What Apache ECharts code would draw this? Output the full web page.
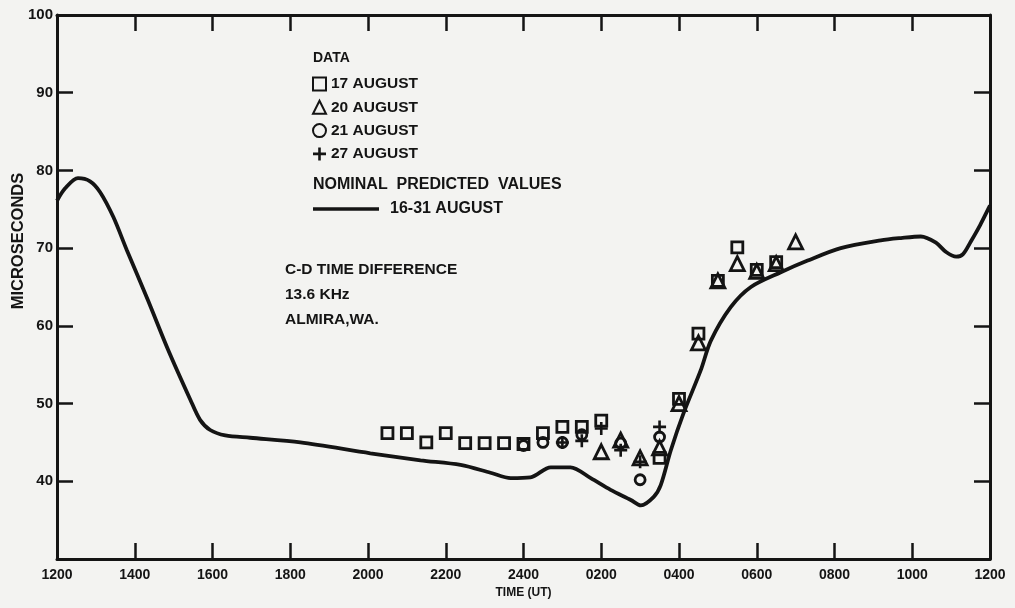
<!DOCTYPE html>
<html><head><meta charset="utf-8">
<script src="https://cdn.jsdelivr.net/npm/echarts@6/dist/echarts.min.js"></script>
<style>html,body{margin:0;padding:0;background:#f3f3f1}#c{width:1015px;height:608px}</style>
</head><body><div id="c"></div>
<script>
// x = hours counted from 1200 UT on the first day (12 .. 36)
const xTickLabels = ['1200','1400','1600','1800','2000','2200','2400','0200','0400','0600','0800','1000','1200'];
const yTickLabels = ['', '40','50','60','70','80','90','100'];

const predHours  = [12.0,12.21,12.54,12.85,13.11,13.45,13.80,14.34,14.86,15.43,15.68,15.94,16.33,16.97,18.26,20.06,21.35,22.38,23.15,23.67,24.18,24.70,25.21,25.73,26.24,26.76,27.02,27.35,27.53,27.79,28.12,28.56,28.82,29.33,29.85,30.62,31.31,32.16,33.19,33.71,34.22,34.61,34.87,35.13,35.30,35.50,35.75,36.0];
const predValues = [76.1,77.7,79.0,78.6,77.2,74.0,69.7,63.3,56.9,50.5,47.9,46.6,45.9,45.6,45.0,43.6,42.7,42.1,41.1,40.4,40.5,41.8,41.8,40.4,38.9,37.6,36.9,38.0,39.5,44.0,48.8,54.3,58.1,62.4,65.0,66.9,68.4,70.0,71.0,71.3,71.5,70.7,69.5,68.9,69.2,70.8,73.0,75.5];

const aug17Hours  = [20.5,21.0,21.5,22.0,22.5,23.0,23.5,24.0,24.5,25.0,25.5,26.0,27.5,28.0,28.5,29.0,29.5,30.0,30.5];
const aug17Values = [46.2,46.2,45.0,46.2,44.9,44.9,44.9,44.8,46.2,47.0,47.0,47.8,43.0,50.6,59.0,65.8,70.1,67.2,68.2];

const aug20Hours  = [26.0,26.5,27.0,27.5,28.0,28.5,29.0,29.5,30.0,30.5,31.0];
const aug20Values = [43.8,45.3,43.0,44.3,50.0,57.8,65.8,68.0,67.0,68.0,70.8];

const aug21Hours  = [24.0,24.5,25.0,25.5,26.5,27.0,27.5];
const aug21Values = [44.6,45.0,45.0,46.0,44.9,40.2,45.7];

const aug27Hours  = [25.0,25.5,26.0,26.5,27.0,27.5];
const aug27Values = [45.0,45.2,46.8,44.0,42.5,47.0];

const zip = (a, b) => a.map((v, i) => [v, b[i]]);
const INK = '#141414';
const FONT = '"Liberation Sans", Arial, sans-serif';
const PLUS = 'path://M4,0h2v4h4v2h-4v4h-2v-4h-4v-2h4z';

const chart = echarts.init(document.getElementById('c'), null, {renderer: 'canvas'});

const axisCommon = {
  type: 'value', min: 12, max: 36, interval: 2,
  axisLine: {show: true, lineStyle: {color: INK, width: 3}},
  axisTick: {show: true, inside: true, length: 16, lineStyle: {color: INK, width: 2.5}},
  splitLine: {show: false}
};
const yCommon = {
  type: 'value', min: 30, max: 100, interval: 10,
  axisLine: {show: true, lineStyle: {color: INK, width: 3}},
  axisTick: {show: true, inside: true, length: 16, lineStyle: {color: INK, width: 2.5}},
  splitLine: {show: false}
};

const scatterStyle = {color: 'rgba(0,0,0,0)', borderColor: INK, borderWidth: 2.8, opacity: 1};

chart.setOption({
  backgroundColor: '#f3f3f1',
  animation: false,
  grid: {left: 57, right: 25, top: 15, bottom: 49, containLabel: false, outerBoundsMode: 'none'},
  xAxis: [
    Object.assign({}, axisCommon, {
      position: 'bottom',
      name: 'TIME (UT)', nameLocation: 'middle', nameGap: 26,
      nameTextStyle: {color: INK, fontWeight: 'bold', fontSize: 12, fontFamily: FONT},
      axisLabel: {color: INK, fontWeight: 'bold', fontSize: 14, fontFamily: FONT, margin: 9,
        formatter: v => xTickLabels[Math.round((v - 12) / 2)]}
    }),
    Object.assign({}, axisCommon, {position: 'top', axisLabel: {show: false}})
  ],
  yAxis: [
    Object.assign({}, yCommon, {
      position: 'left',
      axisLabel: {color: INK, fontWeight: 'bold', fontSize: 15, fontFamily: FONT, margin: 4,
        formatter: v => yTickLabels[Math.round((v - 30) / 10)]}
    }),
    Object.assign({}, yCommon, {position: 'right', axisLabel: {show: false}})
  ],
  legend: [
    {
      orient: 'vertical', left: 312, top: 76, itemGap: 7.3, itemWidth: 13, itemHeight: 13, padding: 0,
      textStyle: {color: INK, fontWeight: 'bold', fontSize: 15.5, fontFamily: FONT},
      data: ['17 AUGUST', '20 AUGUST', '21 AUGUST', '27 AUGUST']
    },
    {
      orient: 'vertical', left: 313, top: 201, itemWidth: 66, itemHeight: 3.5, padding: 0,
      textStyle: {color: INK, fontWeight: 'bold', fontSize: 16, fontFamily: FONT, padding: [0, 0, 0, 6]},
      data: [{name: '16-31 AUGUST', icon: 'rect'}]
    }
  ],
  graphic: [
    {type: 'text', left: 313, top: 51, style: {text: 'DATA', fill: INK, font: 'bold 14px ' + FONT}},
    {type: 'text', left: 313, top: 177, style: {text: 'NOMINAL  PREDICTED  VALUES', fill: INK, font: 'bold 16px ' + FONT}},
    {type: 'text', left: 285, top: 262, style: {text: 'C-D TIME DIFFERENCE', fill: INK, font: 'bold 15.5px ' + FONT}},
    {type: 'text', left: 285, top: 287, style: {text: '13.6 KHz', fill: INK, font: 'bold 15.5px ' + FONT}},
    {type: 'text', left: 285, top: 312, style: {text: 'ALMIRA,WA.', fill: INK, font: 'bold 15.5px ' + FONT}},
    {type: 'text', x: 18, y: 241, rotation: Math.PI / 2,
      style: {text: 'MICROSECONDS', fill: INK, font: 'bold 16.5px ' + FONT, align: 'center', verticalAlign: 'middle'}}
  ],
  series: [
    {
      name: '16-31 AUGUST', type: 'line', data: zip(predHours, predValues),
      smooth: 0.3, symbol: 'none', z: 2,
      lineStyle: {color: INK, width: 3.8}, itemStyle: {color: INK}
    },
    {name: '17 AUGUST', type: 'scatter', symbol: 'rect', symbolSize: 11, z: 3,
      data: zip(aug17Hours, aug17Values), itemStyle: scatterStyle},
    {name: '20 AUGUST', type: 'scatter', symbol: 'triangle', symbolSize: 14, z: 3,
      data: zip(aug20Hours, aug20Values), itemStyle: scatterStyle},
    {name: '21 AUGUST', type: 'scatter', symbol: 'circle', symbolSize: 10, z: 3,
      data: zip(aug21Hours, aug21Values), itemStyle: scatterStyle},
    {name: '27 AUGUST', type: 'scatter', symbol: PLUS, symbolSize: 13, z: 3,
      data: zip(aug27Hours, aug27Values), itemStyle: {color: INK, borderWidth: 0, opacity: 1}}
  ]
});
</script>
</body></html>
